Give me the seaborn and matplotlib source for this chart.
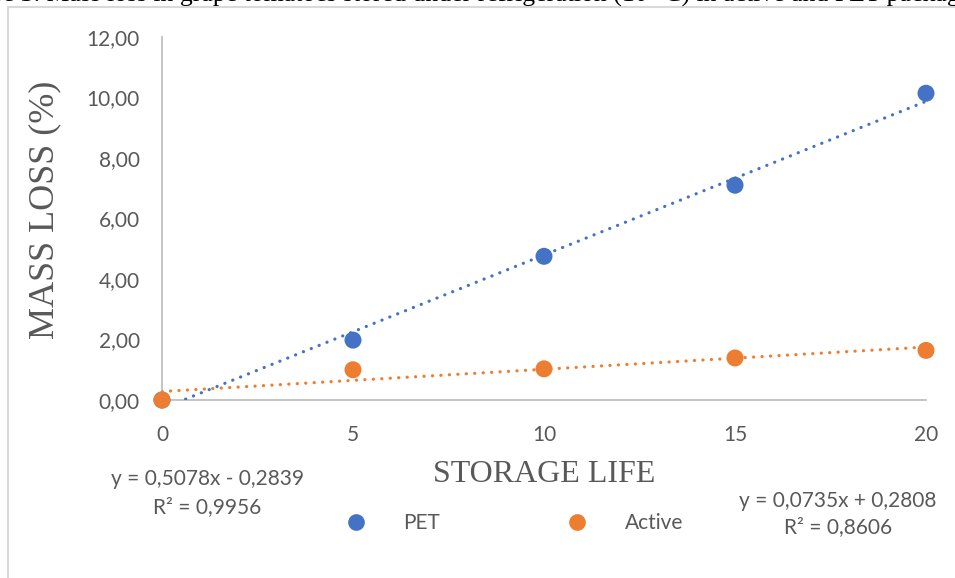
import numpy as np
import pandas as pd
import matplotlib
matplotlib.use("Agg")
import matplotlib.pyplot as plt
from matplotlib.lines import Line2D
import seaborn as sns

# Storage days and measured mass loss (%) per packaging
storage_days = [0, 5, 10, 15, 20]
pet_loss = [0.0, 1.98, 4.75, 7.10, 10.14]
active_loss = [0.0, 1.00, 1.03, 1.39, 1.64]
series_names = ["PET", "Active"]

# Linear trendline coefficients (slope, intercept, R²)
pet_fit = (0.5078, -0.2839, 0.9956)
active_fit = (0.0735, 0.2808, 0.8606)

x_ticks = [0, 5, 10, 15, 20]
y_ticks = [0, 2, 4, 6, 8, 10, 12]

caption = ("Figure 3. Mass loss in grape tomatoes stored under refrigeration "
           "(10 °C) in active and PET packaging")

blue = "#4472C4"
orange = "#ED7D31"
gray_text = "#595959"
axis_gray = "#BFBFBF"

sns.set_theme(style="white")
plt.rcParams["font.family"] = ["Lato", "DejaVu Sans"]

W, H = 955, 578
fig = plt.figure(figsize=(W / 100, H / 100), dpi=100)
ax = fig.add_axes([162 / W, 1 - 400 / H, (926 - 162) / W, (400 - 37) / H])

df = pd.DataFrame({
    "days": storage_days * 2,
    "loss": pet_loss + active_loss,
    "pack": [series_names[0]] * len(storage_days) + [series_names[1]] * len(storage_days),
})

sns.scatterplot(data=df, x="days", y="loss", hue="pack",
                palette={"PET": blue, "Active": orange}, s=150,
                edgecolor="none", ax=ax, legend=False, clip_on=False, zorder=3)

# Dotted linear trendlines
tx = np.array([storage_days[0], storage_days[-1]], dtype=float)
for (slope, intercept, _), color in [(pet_fit, blue), (active_fit, orange)]:
    sns.lineplot(x=tx, y=slope * tx + intercept, color=color, lw=2.3,
                 linestyle=(0, (0.05, 2.6)), ax=ax, zorder=4)
for ln in ax.lines:
    ln.set_dash_capstyle("round")

ax.set_xlim(0, 20)
ax.set_ylim(0, 12)
ax.set_xticks(x_ticks)
ax.set_yticks(y_ticks)
ax.set_xticklabels([str(v) for v in x_ticks])
ax.set_yticklabels([f"{v:.2f}".replace(".", ",") for v in y_ticks])
ax.tick_params(axis="both", length=0, labelsize=15, colors=gray_text)
ax.tick_params(axis="x", pad=18)
ax.tick_params(axis="y", pad=16)

for side in ["top", "right"]:
    ax.spines[side].set_visible(False)
for side in ["left", "bottom"]:
    ax.spines[side].set_color(axis_gray)
    ax.spines[side].set_linewidth(1.3)

ax.set_xlabel("STORAGE LIFE", family="Liberation Serif", fontsize=23,
              color=gray_text, labelpad=11)
ax.set_ylabel("MASS LOSS (%)", family="Liberation Serif", fontsize=26,
              color=gray_text, va="center")
ax.yaxis.set_label_coords((45 - 162) / 764, (400 - 210) / 363)


def fmt(v):
    return f"{abs(v):.4f}".replace(".", ",")


def eq_text(fit):
    slope, intercept, r2 = fit
    sign = "+" if intercept >= 0 else "-"
    return f"y = {fmt(slope)}x {sign} {fmt(intercept)}\nR² = {fmt(r2)}"


fig.text(207 / W, 1 - 493 / H, eq_text(pet_fit), ha="center", va="center",
         fontsize=15, color=gray_text, linespacing=1.45)
fig.text(838 / W, 1 - 514 / H, eq_text(active_fit), ha="center", va="center",
         fontsize=15, color=gray_text, linespacing=1.4)

handles = [Line2D([], [], marker="o", ls="none", color=c, markersize=12,
                  markeredgewidth=0) for c in (blue, orange)]
fig.legend(handles, series_names, loc="center", ncol=2,
           bbox_to_anchor=(509 / W, 1 - 523 / H), frameon=False,
           fontsize=15, labelcolor=gray_text, handletextpad=1.26,
           columnspacing=5.6, handlelength=2.0, borderpad=0)

# Chart frame edges and the caption line above it
fig.add_artist(Line2D([8 / W, 8 / W], [0, 1 - 7 / H], color="#D9D9D9",
                      lw=1.5, transform=fig.transFigure))
fig.add_artist(Line2D([8 / W, 1], [1 - 7 / H, 1 - 7 / H], color="#D9D9D9",
                      lw=1.5, transform=fig.transFigure))
fig.text(993 / W, 1 - 2 / H, caption, ha="right", va="baseline",
         family="Liberation Serif", fontsize=18.5, color="black")

fig.savefig("out.png", dpi=100)
